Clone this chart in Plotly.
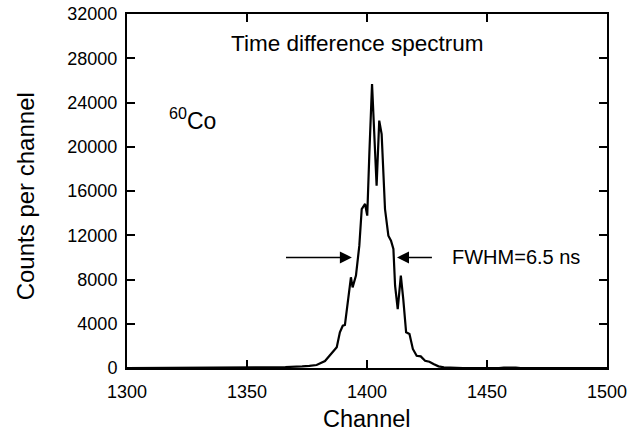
import plotly.graph_objects as go

# Channel numbers and counts
channels = [1300, 1315, 1316, 1318, 1344, 1346, 1348, 1358, 1362, 1366, 1370, 1373, 1376,
            1379, 1382.5, 1384.6, 1386, 1387.4, 1388.7, 1389.9, 1390.8, 1392.2, 1393.3,
            1394.0, 1395.4, 1396.8, 1397.8, 1399.2, 1400.1, 1401.0, 1402.1, 1404.0,
            1405.1, 1406.1, 1407.5, 1408.9, 1410.0, 1411.0, 1411.7, 1412.8, 1414.1,
            1415.1, 1416.3, 1417.7, 1419.1, 1420.7, 1422.4, 1424.2, 1426.0, 1427.7,
            1429.8, 1432, 1435, 1440, 1455, 1457, 1462, 1464, 1480, 1500]
counts = [0, 0, 60, 0, 0, 50, 0, 40, 60, 80, 100, 150, 200,
          270, 630, 1150, 1500, 1870, 3230, 3820, 3890, 6540, 8200,
          7290, 8350, 11060, 14370, 14830, 13770, 19500, 25670, 16480,
          22360, 21150, 14370, 11960, 11510, 10760, 7440, 5330, 8350,
          6240, 3230, 3070, 1720, 1110, 1050, 660, 570, 360,
          150, 60, 20, 0, 0, 40, 40, 0, 0, 0]

x_ticks = [1300, 1350, 1400, 1450, 1500]
y_ticks = [0, 4000, 8000, 12000, 16000, 20000, 24000, 28000, 32000]

FONT = "Arial, Liberation Sans, Helvetica, sans-serif"

fig = go.Figure()
fig.add_trace(go.Scatter(x=channels, y=counts, mode="lines",
                         line=dict(color="black", width=2.2), hoverinfo="skip"))

axis_common = dict(showgrid=False, zeroline=False, showline=True, linecolor="black",
                   linewidth=2, mirror="ticks", ticks="inside", ticklen=8,
                   tickwidth=1.5, tickcolor="black", automargin=False,
                   tickfont=dict(family=FONT, size=18, color="black"))

fig.update_xaxes(range=[1300, 1500], tickvals=x_ticks,
                 ticktext=[str(v) for v in x_ticks], ticklabelstandoff=6, **axis_common)
fig.update_yaxes(range=[0, 32000], tickvals=y_ticks,
                 ticktext=[str(v) for v in y_ticks], ticklabelstandoff=4, **axis_common)

# Axis titles
fig.add_annotation(x=0.5, y=-0.144, xref="paper", yref="paper", xanchor="center",
                   yanchor="middle", text="Channel", showarrow=False,
                   font=dict(family=FONT, size=23.5, color="black"))
fig.add_annotation(x=-0.2125, y=0.485, xref="paper", yref="paper", xanchor="center",
                   yanchor="middle", text="Counts per channel", showarrow=False,
                   textangle=-90, font=dict(family=FONT, size=24, color="black"))

# FWHM arrows
fig.add_annotation(x=1393.7, y=10000, ax=1365, ay=10000, xref="x", yref="y",
                   axref="x", ayref="y", showarrow=True, arrowhead=2, arrowsize=1.6,
                   arrowwidth=1.5, arrowcolor="black", text=" ")
fig.add_annotation(x=1412.5, y=10000, ax=1428.3, ay=10000, xref="x", yref="y",
                   axref="x", ayref="y", showarrow=True, arrowhead=2, arrowsize=1.6,
                   arrowwidth=1.5, arrowcolor="black", text=" ")
fig.add_annotation(x=1434.4, y=10000, xref="x", yref="y", xanchor="left", yanchor="middle",
                   text="FWHM=6.5 ns", showarrow=False,
                   font=dict(family=FONT, size=20, color="black"))
fig.add_annotation(x=1396, y=29300, xref="x", yref="y", xanchor="center", yanchor="middle",
                   text="Time difference spectrum", showarrow=False,
                   font=dict(family=FONT, size=22.5, color="black"))
fig.add_annotation(x=1316.5, y=22500, xref="x", yref="y", xanchor="left", yanchor="middle",
                   text="<sup>60</sup>Co", showarrow=False,
                   font=dict(family=FONT, size=23, color="black"))

fig.update_layout(width=640, height=445, plot_bgcolor="white", paper_bgcolor="white",
                  margin=dict(l=127, r=33, t=14, b=77), showlegend=False)

# remove the browser's default body margin so the figure fills the window exactly
fig.write_html("out.html", config={"displayModeBar": False},
               post_script="document.body.style.margin='0';document.body.style.overflow='hidden';")
